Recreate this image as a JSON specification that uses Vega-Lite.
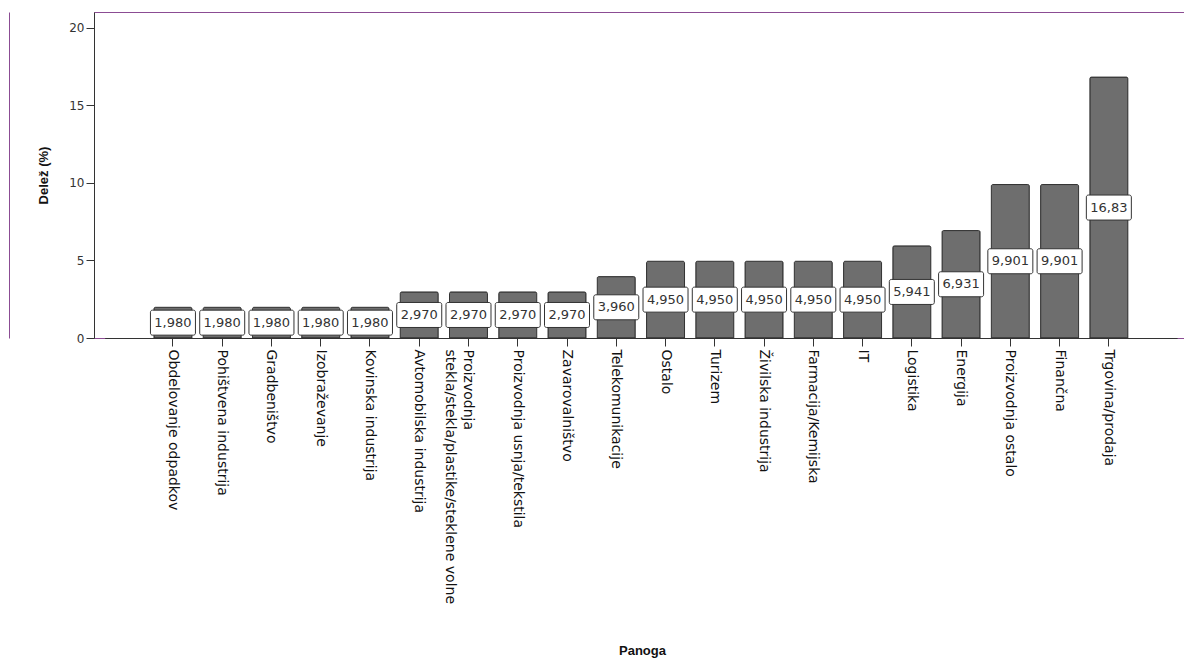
{
  "$schema": "https://vega.github.io/schema/vega-lite/v6.json",
  "width": 1094,
  "height": 326,
  "autosize": {"type": "none"},
  "padding": {"left": 94, "top": 12, "right": 0, "bottom": 326},
  "background": "white",
  "config": {
    "locale": {"number": {"decimal": ",", "thousands": ".", "grouping": [3], "currency": ["", " €"]}},
    "view": {"stroke": "#8b4c93", "strokeWidth": 1},
    "font": "DejaVu Sans"
  },
  "data": {
    "values": [
      {"Panoga": "Obdelovanje odpadkov", "v": 1.980},
      {"Panoga": "Pohištvena industrija", "v": 1.980},
      {"Panoga": "Gradbeništvo", "v": 1.980},
      {"Panoga": "Izobraževanje", "v": 1.980},
      {"Panoga": "Kovinska industrija", "v": 1.980},
      {"Panoga": "Avtomobilska industrija", "v": 2.970},
      {"Panoga": "Proizvodnja stekla/stekla/plastike/steklene volne", "v": 2.970},
      {"Panoga": "Proizvodnja usnja/tekstila", "v": 2.970},
      {"Panoga": "Zavarovalništvo", "v": 2.970},
      {"Panoga": "Telekomunikacije", "v": 3.960},
      {"Panoga": "Ostalo", "v": 4.950},
      {"Panoga": "Turizem", "v": 4.950},
      {"Panoga": "Živilska industrija", "v": 4.950},
      {"Panoga": "Farmacija/Kemijska", "v": 4.950},
      {"Panoga": "IT", "v": 4.950},
      {"Panoga": "Logistika", "v": 5.941},
      {"Panoga": "Energija", "v": 6.931},
      {"Panoga": "Proizvodnja ostalo", "v": 9.901},
      {"Panoga": "Finančna", "v": 9.901},
      {"Panoga": "Trgovina/prodaja", "v": 16.83}
    ]
  },
  "encoding": {
    "x": {
      "field": "Panoga",
      "type": "nominal",
      "sort": null,
      "scale": {"paddingInner": 0.229, "paddingOuter": 1, "range": [10.7, 1083.1]},
      "axis": {
        "title": "Panoga",
        "titleFont": "Liberation Sans",
        "titleFontSize": 13,
        "titleFontWeight": "bold",
        "titleColor": "#111",
        "titleX": 548,
        "titleY": 312,
        "titleAlign": "center",
        "titleBaseline": "middle",
        "labelAngle": 90,
        "labelAlign": "left",
        "labelBaseline": "middle",
        "labelFontSize": 14,
        "labelColor": "#111",
        "labelPadding": 3,
        "labelLimit": 0,
        "labelOverlap": false,
        "labelLineHeight": 18,
        "labelExpr": "datum.value == 'Proizvodnja stekla/stekla/plastike/steklene volne' ? ['Proizvodnja', 'stekla/stekla/plastike/steklene volne'] : datum.value",
        "tickSize": 8,
        "tickColor": "#333",
        "domainColor": "#333"
      }
    }
  },
  "layer": [
    {
      "mark": {"type": "bar", "fill": "#6e6e6e", "stroke": "#333", "strokeWidth": 1, "cornerRadiusTopLeft": 1.5, "cornerRadiusTopRight": 1.5},
      "encoding": {
        "y": {
          "field": "v",
          "type": "quantitative",
          "scale": {"domain": [0, 21.03], "nice": false},
          "axis": {
            "values": [0, 5, 10, 15, 20],
            "grid": false,
            "tickSize": 8,
            "tickColor": "#333",
            "domainColor": "#333",
            "labelPadding": 2,
            "labelFontSize": 12,
            "labelColor": "#333",
            "title": "Delež (%)",
            "titleFont": "Liberation Sans",
            "titleFontSize": 13,
            "titleFontWeight": "bold",
            "titleColor": "#111",
            "titleAngle": 270,
            "titleX": -51,
            "titleY": 163,
            "titleAlign": "center",
            "titleBaseline": "middle"
          }
        }
      }
    },
    {
      "mark": {"type": "bar", "width": 45, "fill": "white", "stroke": "#333", "strokeWidth": 1, "yOffset": -12.5, "y2Offset": 12.5, "cornerRadius": 2},
      "encoding": {
        "y": {
          "field": "v",
          "type": "quantitative",
          "scale": {"domain": [0, 42.06], "nice": false},
          "axis": {"orient": "left", "offset": 85, "domainColor": "#8b4c93", "domainWidth": 1, "ticks": false, "labels": false, "grid": false, "title": null}
        },
        "y2": {"field": "v"}
      }
    },
    {
      "mark": {"type": "text", "fontSize": 13, "color": "#333", "baseline": "middle", "align": "center"},
      "encoding": {
        "y": {"field": "v", "type": "quantitative", "scale": {"domain": [0, 42.06], "nice": false}, "axis": null},
        "text": {"field": "v", "type": "quantitative", "format": ".4r"}
      }
    }
  ],
  "resolve": {"scale": {"y": "independent"}}
}
